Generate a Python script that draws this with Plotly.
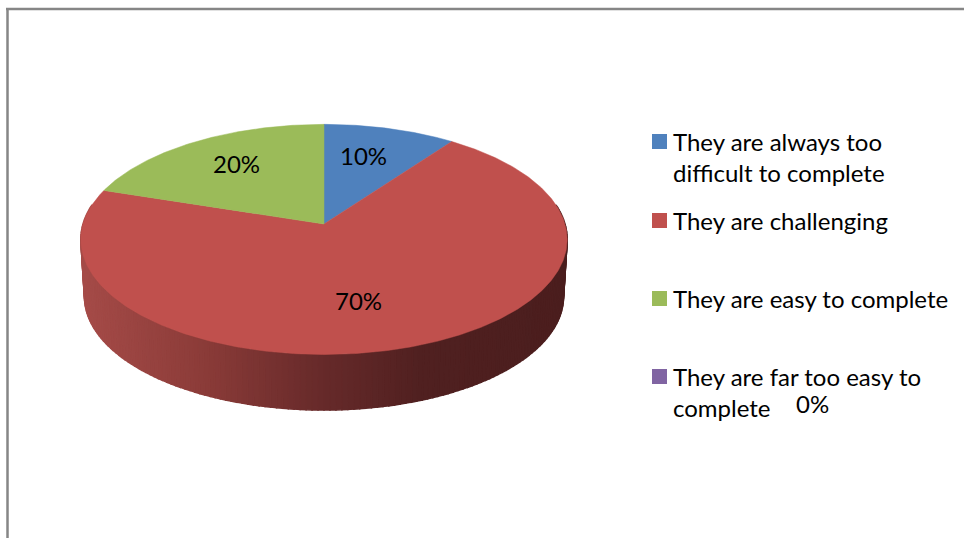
import numpy as np
import plotly.graph_objects as go

categories = ["They are always too<br>difficult to complete", "They are challenging",
              "They are easy to complete", "They are far too easy to<br>complete"]
values = [10, 70, 20, 0]
value_labels = ["10%", "70%", "20%", "0%"]
colors = ["#4F81BD", "#C0504D", "#9BBB59", "#8064A2"]

# Page geometry of the tilted pie (pixels of the 964x538 figure)
CX, CY = 324, 224
A, B, K = 113.0, 241.0, 0.134
DEPTH, RIM = 57.5, 0.985
label_xy = [(363, 155), (358, 300), (236, 163), (812, 403)]
legend_x, legend_text_x = 659.5, 670.5
legend_y = [141.5, 220.5, 298.5, 376.5]
FONT = "Lato"
FS = 24
wall_stops_x = [85, 200, 320, 420, 565]
wall_stops_rgb = [(165, 75, 72), (140, 60, 57), (103, 42, 42), (80, 32, 32), (75, 30, 30)]


def project(deg, scale=1.0, dy=0.0):
    t = np.radians(deg)
    c, s = np.sin(t), np.cos(t)
    d = 1 + K * s
    return CX + scale * B * c / d, CY + dy - scale * A * s / d


fig = go.Figure()
fig.add_shape(type="line", x0=7.5, x1=7.5, y0=9, y1=538, line=dict(color="#868686", width=2.5))
fig.add_shape(type="line", x0=6, x1=964, y0=9, y1=9, line=dict(color="#868686", width=2.5))

# side wall, drawn as thin shaded strips
edges = np.linspace(80, 280, 161)
for a0, a1 in zip(edges[:-1], edges[1:]):
    x0, y0 = project(a0)
    x1, y1 = project(a1)
    x2, y2 = project(a1, RIM, DEPTH)
    x3, y3 = project(a0, RIM, DEPTH)
    xm = (x2 + x3) / 2
    rgb = [np.interp(xm, wall_stops_x, [c[i] for c in wall_stops_rgb]) for i in range(3)]
    col = f"rgb({rgb[0]:.0f},{rgb[1]:.0f},{rgb[2]:.0f})"
    fig.add_trace(go.Scatter(x=[x0, x1, x2, x3, x0], y=[y0, y1, y2, y3, y0], mode="lines",
                             fill="toself", fillcolor=col, line=dict(color=col, width=1.5),
                             hoverinfo="skip", showlegend=False))

# top faces, angles derived from the values
total = sum(values)
start = 0.0
for name, v, col in zip(categories, values, colors):
    sweep = 360 * v / total
    if v > 0:
        ang = np.linspace(start, start + sweep, max(int(sweep * 2), 2))
        px, py = project(ang)
        fig.add_trace(go.Scatter(x=[CX, *px, CX], y=[CY, *py, CY], mode="lines", fill="toself",
                                 fillcolor=col, line=dict(color=col, width=0.5),
                                 name=name.replace("<br>", " "), hoverinfo="name", showlegend=False))
    start += sweep

# legend swatches and texts
fig.add_trace(go.Scatter(x=[legend_x] * 4, y=legend_y, mode="markers",
                         marker=dict(symbol="square", size=15, color=colors, line=dict(width=0)),
                         hoverinfo="skip", showlegend=False))
annotations = []
for name, y in zip(categories, legend_y):
    for i, line in enumerate(name.split("<br>")):
        annotations.append(dict(x=legend_text_x, y=y + 31 * i, text=line, xref="x", yref="y",
                                xanchor="left", yanchor="middle", showarrow=False,
                                font=dict(family=FONT, size=FS, color="#000000")))
for txt, (x, y) in zip(value_labels, label_xy):
    annotations.append(dict(x=x, y=y, text=txt, xref="x", yref="y", xanchor="center", yanchor="middle",
                            showarrow=False, font=dict(family=FONT, size=FS, color="#000000")))

fig.update_layout(width=964, height=538, margin=dict(l=0, r=0, t=0, b=0), paper_bgcolor="white",
                  plot_bgcolor="white", annotations=annotations, showlegend=False,
                  xaxis=dict(range=[0, 964], visible=False, fixedrange=True),
                  yaxis=dict(range=[538, 0], visible=False, fixedrange=True))
fig.write_html("out.html", post_script="document.body.style.margin='0';", config={"displayModeBar": False})
